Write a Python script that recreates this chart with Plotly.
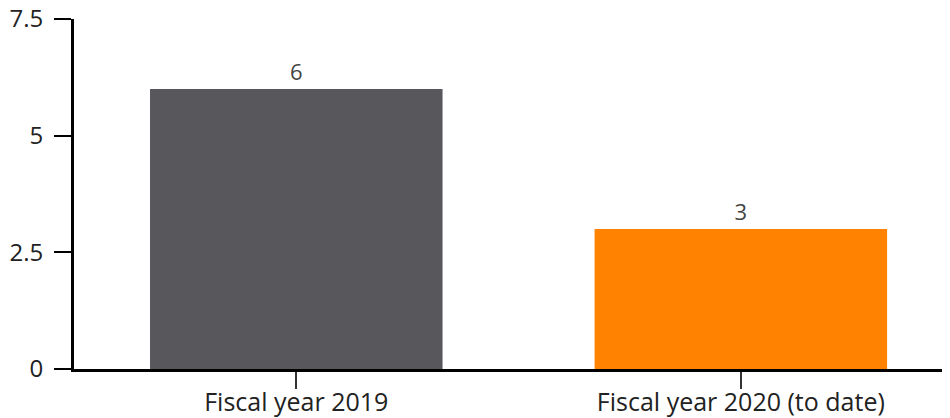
import plotly.graph_objects as go

categories = ["Fiscal year 2019", "Fiscal year 2020 (to date)"]
values = [6, 3]
bar_colors = ["#58575b", "#ff8200"]
y_ticks = [0, 2.5, 5, 7.5]
y_tick_labels = ["0", "2.5", "5", "7.5"]

fig = go.Figure(
    go.Bar(
        x=categories,
        y=values,
        marker=dict(color=bar_colors, line=dict(width=0)),
        width=0.658,
        text=[str(v) for v in values],
        textposition="outside",
        textfont=dict(size=22, color="#444444", family="Open Sans"),
        cliponaxis=False,
    )
)

fig.update_layout(
    width=950,
    height=418,
    margin=dict(l=66, r=6, t=11, b=57),
    paper_bgcolor="white",
    plot_bgcolor="white",
    showlegend=False,
    font=dict(family="Open Sans", color="#222222"),
)

fig.update_xaxes(
    range=[-0.5, 1.475],
    showline=True,
    linewidth=3,
    linecolor="black",
    ticks="outside",
    ticklen=17,
    tickwidth=1.5,
    tickcolor="#333333",
    tickfont=dict(size=25, color="#222222"),
    ticklabelstandoff=-8,
    ticklabeloverflow="allow",
    automargin=False,
    showgrid=False,
    zeroline=False,
)

fig.update_yaxes(
    range=[0, 7.5],
    tickvals=y_ticks,
    ticktext=y_tick_labels,
    showline=True,
    linewidth=3,
    linecolor="black",
    ticks="outside",
    ticklen=17,
    tickwidth=2,
    tickcolor="black",
    tickfont=dict(size=24, color="#222222"),
    ticklabelstandoff=6,
    ticklabeloverflow="allow",
    automargin=False,
    showgrid=False,
    zeroline=False,
)

fig.write_html("out.html")
